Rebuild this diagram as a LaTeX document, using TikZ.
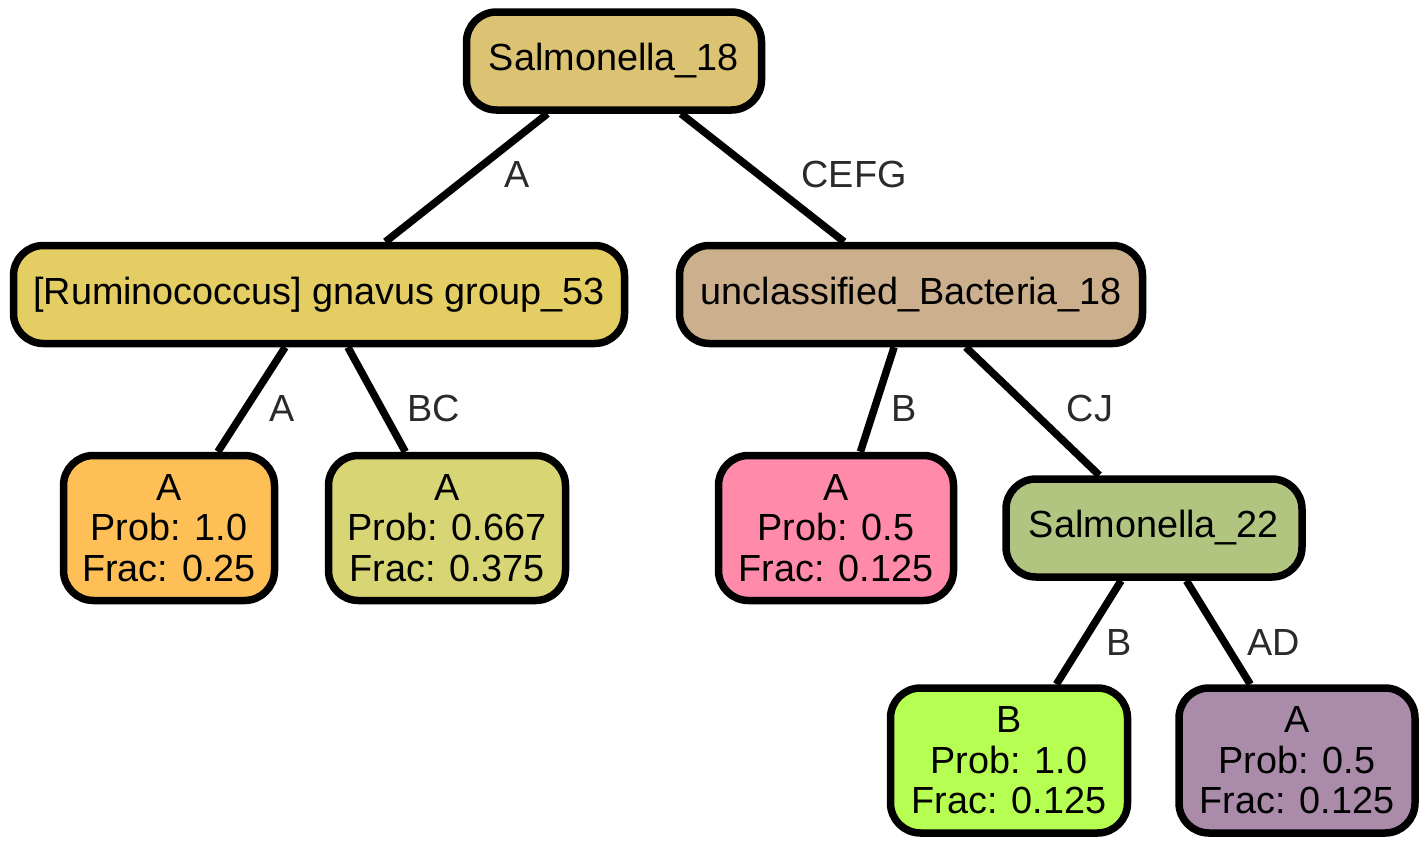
\documentclass[tikz,border=0pt]{standalone}
\usepackage{fontspec}
\setmainfont{Liberation Sans}
\definecolor{cRoot}{HTML}{DCC374}
\definecolor{cRum}{HTML}{E4CD63}
\definecolor{cUnc}{HTML}{CCB08E}
\definecolor{cOrange}{HTML}{FDBF56}
\definecolor{cKhaki}{HTML}{D7D574}
\definecolor{cPink}{HTML}{FF8AAA}
\definecolor{cSal}{HTML}{B2C580}
\definecolor{cGreen}{HTML}{B6FF52}
\definecolor{cPurple}{HTML}{AB8BAA}
\definecolor{labelgray}{HTML}{2A2A2A}
\begin{document}
\begin{tikzpicture}[x=1pt,y=-1pt,
  box/.style={draw=black, line width=7.5pt, rounded corners=30pt, inner sep=0pt,
    font=\fontsize{37.8}{40.5}\selectfont, align=center},
  leaf/.style={box, minimum height=145pt},
  inner/.style={box, minimum height=98pt},
  edge/.style={draw=black, line width=7.5pt},
  lbl/.style={text=labelgray, font=\fontsize{37.8}{40.5}\selectfont, inner sep=0pt}]
\useasboundingbox (0,0) rectangle (1424,846);

\node[inner, fill=cRoot, minimum width=295pt] (root) at (614,61) {Salmonella\_18};
\node[inner, fill=cRum, minimum width=611pt] (rum) at (319,294.5) {{[}Ruminococcus] gnavus group\_53};
\node[inner, fill=cUnc, minimum width=463pt] (unc) at (911,294.5) {unclassified\_Bacteria\_18};
\node[leaf, fill=cOrange, minimum width=211pt] (l1) at (169,528) {A\\Prob: 1.0\\Frac: 0.25};
\node[leaf, fill=cKhaki, minimum width=237pt] (l2) at (447,528) {A\\Prob: 0.667\\Frac: 0.375};
\node[leaf, fill=cPink, minimum width=235pt] (l3) at (836,528) {A\\Prob: 0.5\\Frac: 0.125};
\node[inner, fill=cSal, minimum width=296pt] (s22) at (1154,528) {Salmonella\_22};
\node[leaf, fill=cGreen, minimum width=237pt] (l4) at (1009,760.5) {B\\Prob: 1.0\\Frac: 0.125};
\node[leaf, fill=cPurple, minimum width=236pt] (l5) at (1297,760.5) {A\\Prob: 0.5\\Frac: 0.125};

\draw[edge] (root) -- (rum);
\draw[edge] (root) -- (unc);
\draw[edge] (rum) -- (l1);
\draw[edge] (rum) -- (l2);
\draw[edge] (unc) -- (l3);
\draw[edge] (unc) -- (s22);
\draw[edge] (s22) -- (l4);
\draw[edge] (s22) -- (l5);

\node[lbl] (e1) at (517,174) {A};
\node[lbl] (e2) at (854,174) {CEFG};
\node[lbl] (e3) at (282,408) {A};
\node[lbl] (e4) at (434,408) {BC};
\node[lbl] (e5) at (904,408) {B};
\node[lbl] (e6) at (1090,408) {CJ};
\node[lbl] (e7) at (1119,642) {B};
\node[lbl] (e8) at (1274,642) {AD};
\end{tikzpicture}
\end{document}
